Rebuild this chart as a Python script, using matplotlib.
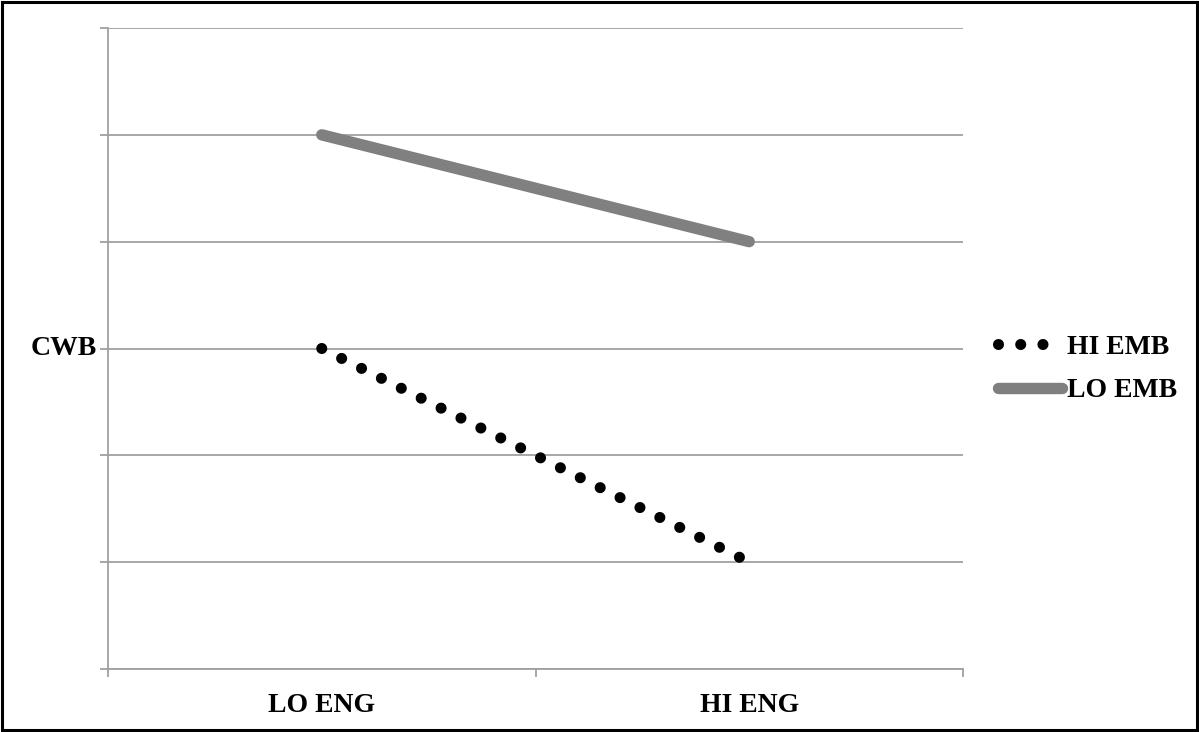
import matplotlib
matplotlib.use("Agg")
import matplotlib.pyplot as plt
from matplotlib.patches import Rectangle

categories = ["LO ENG", "HI ENG"]
series_names = ["HI EMB", "LO EMB"]
hi_emb = [3.0, 1.0]
lo_emb = [5.0, 4.0]
y_label = "CWB"

W, H = 1199, 732
fig = plt.figure(figsize=(W / 100, H / 100), dpi=100)
L, R, T, B = 108, 963, 28, 669
ax = fig.add_axes([L / W, 1 - B / H, (R - L) / W, (B - T) / H])

font = ["Liberation Serif", "DejaVu Serif"]
fs = 20
grid_c = "#a0a0a0"

x = list(range(len(categories)))
ax.plot(x, hi_emb, color="black", lw=8, linestyle=(0, (0.001, 2.0)),
        dash_capstyle="round", solid_capstyle="round", label=series_names[0], zorder=3)
ax.plot(x, lo_emb, color="#808080", lw=8.2, solid_capstyle="round",
        label=series_names[1], zorder=3)

ax.set_xlim(-0.5, len(categories) - 0.5)
ax.set_ylim(0, 6)
ax.set_yticks(range(0, 7))
ax.set_yticklabels([])
ax.yaxis.grid(True, color=grid_c, lw=1.3)
ax.set_axisbelow(True)
ax.tick_params(axis="y", length=6, width=1.3, color=grid_c, direction="out")

ax.set_xticks([i - 0.5 for i in range(len(categories) + 1)])
ax.set_xticklabels([])
ax.set_xticks(x, minor=True)
ax.set_xticklabels(categories, minor=True, fontfamily=font, fontweight="bold", fontsize=fs)
ax.tick_params(axis="x", which="major", length=6, width=1.3, color=grid_c, direction="out")
ax.tick_params(axis="x", which="minor", length=0, pad=17)

for s in ["top", "right"]:
    ax.spines[s].set_visible(False)
for s in ["left", "bottom"]:
    ax.spines[s].set_color(grid_c)
    ax.spines[s].set_linewidth(1.3)

ax.text(-11 / (R - L), 0.5, y_label, transform=ax.transAxes, ha="right", va="center",
        fontfamily=font, fontweight="bold", fontsize=fs)

leg = fig.legend(loc="center left", bbox_to_anchor=(998 / W, 1 - 369 / H), frameon=False,
                 prop={"family": font, "weight": "bold", "size": fs},
                 handlelength=2.3, handletextpad=0.2, labelspacing=0.65, borderpad=0,
                 borderaxespad=0)

fig.patches.append(Rectangle((0.002, 0.003), 0.996, 0.994, transform=fig.transFigure,
                             fill=False, edgecolor="black", lw=2.2))

fig.savefig("out.png", dpi=100, facecolor="white")
